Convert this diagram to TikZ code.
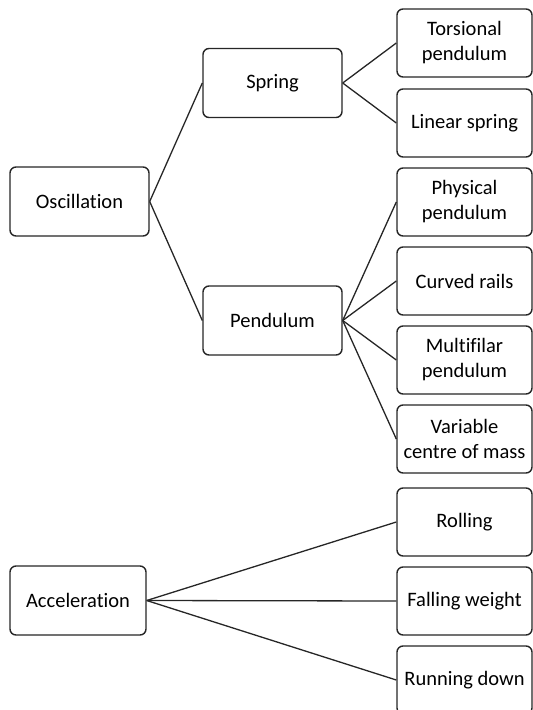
\documentclass[tikz,border=0pt]{standalone}
\usepackage{fontspec}
\setmainfont[Ligatures=NoCommon]{Carlito}
\begin{document}
\begin{tikzpicture}[x=1pt,y=-1pt,
  box/.style={draw=black!85,line width=1.4pt,rounded corners=6pt,fill=white,
    inner sep=0pt,align=center,font=\fontsize{20.5}{25}\selectfont},
  leftbox/.style={box,minimum width=139pt,minimum height=69pt},
  rbox/.style={box,minimum width=135pt,minimum height=68pt},
  link/.style={draw=black!85,line width=1.3pt}]
\useasboundingbox (0,0) rectangle (533,710);
\node[leftbox] (osc) at (79.5,201.5) {Oscillation};
\node[leftbox] (spring) at (272.5,83) {Spring};
\node[leftbox] (pend) at (272.5,320.5) {Pendulum};
\node[leftbox,minimum width=136pt] (acc) at (78,600.5) {Acceleration};
\node[rbox] (tors) at (464.5,43) {Torsional\\pendulum};
\node[rbox] (lin) at (464.5,123) {Linear spring};
\node[rbox] (phys) at (464.5,202) {Physical\\pendulum};
\node[rbox] (curv) at (464.5,281) {Curved rails};
\node[rbox] (multi) at (464.5,360) {Multifilar\\pendulum};
\node[rbox] (var) at (464.5,439) {Variable\\centre of mass};
\node[rbox] (roll) at (464.5,522) {Rolling};
\node[rbox] (fall) at (464.5,601) {Falling weight};
\node[rbox] (run) at (464.5,680) {Running down};
\draw[link] (osc.east) -- (spring.west);
\draw[link] (osc.east) -- (pend.west);
\draw[link] (spring.east) -- (tors.west);
\draw[link] (spring.east) -- (lin.west);
\draw[link] (pend.east) -- (phys.west);
\draw[link] (pend.east) -- (curv.west);
\draw[link] (pend.east) -- (multi.west);
\draw[link] (pend.east) -- (var.west);
\draw[link] (acc.east) -- (roll.west);
\draw[link] (acc.east) -- (fall.west);
\draw[link] (acc.east) -- (run.west);
\end{tikzpicture}
\end{document}
